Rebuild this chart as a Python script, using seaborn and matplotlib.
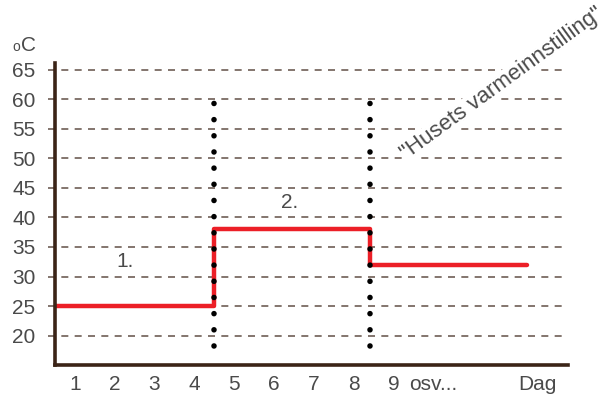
import matplotlib
matplotlib.use("Agg")
import matplotlib.pyplot as plt
import seaborn as sns
import numpy as np

# data
step_x = [0, 4, 7.92, 11.85]          # day positions where the setting changes
step_temp = [25, 38, 32, 32]          # degC held after each change
divider_x = [4, 7.92]                 # dotted period dividers
divider_span = [18.3, 59.3]           # vertical extent of dividers
y_ticks = [20, 25, 30, 35, 40, 45, 50, 55, 60, 65]
day_labels = ["1", "2", "3", "4", "5", "6", "7", "8", "9", "osv...", "Dag"]
day_label_x = [0.5, 1.5, 2.5, 3.5, 4.5, 5.5, 6.5, 7.5, 8.5, 9.5, 12.13]
period_labels = ["1.", "2."]
period_pos = [(1.76, 32.6), (5.9, 42.6)]

RED = "#ec1f27"
BROWN = "#3b2417"
GRID = "#6e5e55"
TEXT = "#4a4a4a"

sns.set_style("white")
plt.rcParams["font.family"] = ["Liberation Sans", "DejaVu Sans"]

fig = plt.figure(figsize=(6.13, 3.94), dpi=100)
ax = fig.add_axes([0.0897, 0.0736, 0.837, 0.7664])
ax.set_xlim(0, 12.89)
ax.set_ylim(15.05, 66.1)

# dashed guide lines, poking out left of the axis
ax.hlines(y_ticks, -0.18, 12.85, colors=GRID, linewidth=1.2,
          linestyles=(0, (4.2, 3.8)), clip_on=False, zorder=1)

# rotated label with white backing that breaks the grid
ax.text(11.22, 62.6, "\"Husets varmeinnstilling\"", rotation=36,
        ha="center", va="center", fontsize=16, color=TEXT, clip_on=False,
        bbox=dict(facecolor="white", edgecolor="none", pad=0.5), zorder=2)

# dotted dividers
for dx in divider_x:
    ax.plot([dx, dx], divider_span, color="black", linewidth=4,
            linestyle=(0, (0.01, 2.9)), dash_capstyle="round", zorder=4)

# temperature setting as a step line
sns.lineplot(x=step_x, y=step_temp, drawstyle="steps-post", color=RED,
             linewidth=3.2, ax=ax, zorder=3)

for lbl, (px, py) in zip(period_labels, period_pos):
    ax.text(px, py, lbl, ha="center", va="center", fontsize=15, color=TEXT)

# axes styling
for side in ["top", "right"]:
    ax.spines[side].set_visible(False)
for side in ["left", "bottom"]:
    ax.spines[side].set_color(BROWN)
    ax.spines[side].set_linewidth(2.6)
    ax.spines[side].set_zorder(5)

ax.set_yticks(y_ticks)
ax.set_yticklabels([str(v) for v in y_ticks])
ax.tick_params(axis="y", length=0, pad=14, labelsize=15, labelcolor=TEXT)

ax.set_xticks(np.arange(0, 13))
ax.set_xticklabels([])
ax.tick_params(axis="x", which="major", direction="out", length=4, width=1,
               color=BROWN)
ax.set_xticks(day_label_x, minor=True)
ax.set_xticklabels(day_labels, minor=True)
ax.tick_params(axis="x", which="minor", length=0, pad=7, labelsize=15,
               labelcolor=TEXT)

# unit label: small "o" then "C"
fig.text(0.020, 0.870, "o", fontsize=10, color=TEXT, ha="left", va="baseline")
fig.text(0.034, 0.870, "C", fontsize=15, color=TEXT, ha="left", va="baseline")

ax.grid(False)
fig.savefig("out.png", dpi=100)
